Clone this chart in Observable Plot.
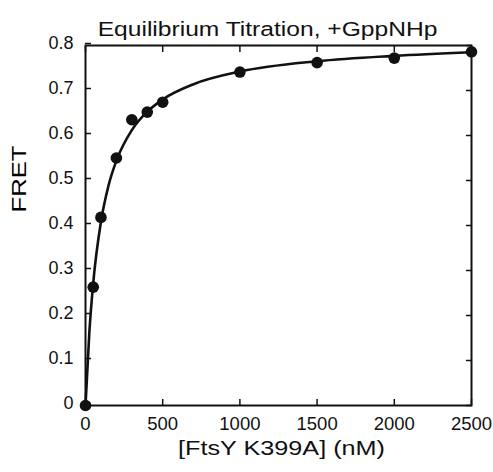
<!DOCTYPE html>
<html>
<head>
<meta charset="utf-8">
<script src="https://cdn.jsdelivr.net/npm/d3@7"></script>
<script src="https://cdn.jsdelivr.net/npm/@observablehq/plot@0.6"></script>
<style>
  html, body { margin: 0; padding: 0; background: #fff; }
  svg { display: block; }
</style>
</head>
<body>
<div id="chart"></div>
<script>
const title = "Equilibrium Titration, +GppNHp";
const xLabel = "[FtsY K399A] (nM)";
const yLabel = "FRET";

// measured points
const conc = [0, 50, 100, 200, 300, 400, 500, 1000, 1500, 2000, 2500];
const fret = [0, 0.263, 0.418, 0.55, 0.635, 0.652, 0.674, 0.741, 0.762, 0.772, 0.786];

// fitted curve
const fitConc = [0, 25, 50, 100, 150, 200, 300, 400, 500, 700, 1000, 1500, 2000, 2500];
const fitFret = [0, 0.163, 0.272, 0.408, 0.49, 0.544, 0.612, 0.653, 0.68, 0.714, 0.742, 0.765, 0.777, 0.785];

const xTicks = [0, 500, 1000, 1500, 2000, 2500];
const xTickLabels = ["0", "500", "1000", "1500", "2000", "2500"];
const yTicks = [0, 0.1, 0.2, 0.3, 0.4, 0.5, 0.6, 0.7, 0.8];
const yTickLabels = ["0", "0.1", "0.2", "0.3", "0.4", "0.5", "0.6", "0.7", "0.8"];

const points = conc.map((c, i) => ({x: c, y: fret[i]}));
const fit = fitConc.map((c, i) => ({x: c, y: fitFret[i]}));

const font = "'Liberation Sans', Arial, Helvetica, sans-serif";
const ink = "#111";

const chart = Plot.plot({
  width: 493,
  height: 472,
  marginLeft: 85,
  marginRight: 22,
  marginTop: 45,
  marginBottom: 67,
  style: {fontFamily: font, color: ink, background: "#fff"},
  x: {domain: [0, 2500], label: null},
  y: {domain: [0, 0.8], label: null},
  marks: [
    Plot.axisX(xTicks, {anchor: "bottom", tickSize: -6, tickPadding: 17, fontSize: 18.5, label: null, strokeWidth: 1.5,
      tickFormat: (d) => xTickLabels[xTicks.indexOf(d)]}),
    Plot.axisX(xTicks, {anchor: "top", tickSize: -6, tickFormat: () => "", label: null, strokeWidth: 1.5}),
    Plot.axisY(yTicks, {anchor: "left", tickSize: -6, tickPadding: 18, fontSize: 18, dy: -2, label: null, strokeWidth: 1.5,
      tickFormat: (d) => yTickLabels[yTicks.indexOf(d)]}),
    Plot.axisY(yTicks, {anchor: "right", tickSize: -6, tickFormat: () => "", label: null, strokeWidth: 1.5}),
    Plot.frame({stroke: ink, strokeWidth: 2}),
    Plot.line(fit, {x: "x", y: "y", curve: "monotone-x", stroke: ink, strokeWidth: 2.6}),
    Plot.dot(points, {x: "x", y: "y", r: 5.8, fill: ink, stroke: "none"}),
    Plot.text([title], {frameAnchor: "top", dx: -11, dy: -23, fontSize: 19.5, fill: ink, text: d => d, className: "t-title"}),
    Plot.text([xLabel], {frameAnchor: "bottom", dx: 3, dy: 49, fontSize: 20, fill: ink, text: d => d, className: "t-xlabel"}),
    Plot.text([yLabel], {frameAnchor: "left", dx: -66, dy: -13, rotate: -90, fontSize: 21, fill: "#000", text: d => d, className: "t-ylabel"})
  ]
});
document.getElementById("chart").appendChild(chart);

// horizontal stretch of the label lettering, as in the original figure
const targetWidth = {"t-title": 340, "t-xlabel": 207, "t-ylabel": 67};
for (const [cls, len] of Object.entries(targetWidth)) {
  d3.select(chart).selectAll(`g.${cls} text`).each(function () {
    const w = this.getComputedTextLength();
    if (w > 0) {
      const t = this.getAttribute("transform") || "";
      this.setAttribute("transform", `${t} scale(${len / w},1)`.trim());
    }
  });
}
</script>
</body>
</html>
